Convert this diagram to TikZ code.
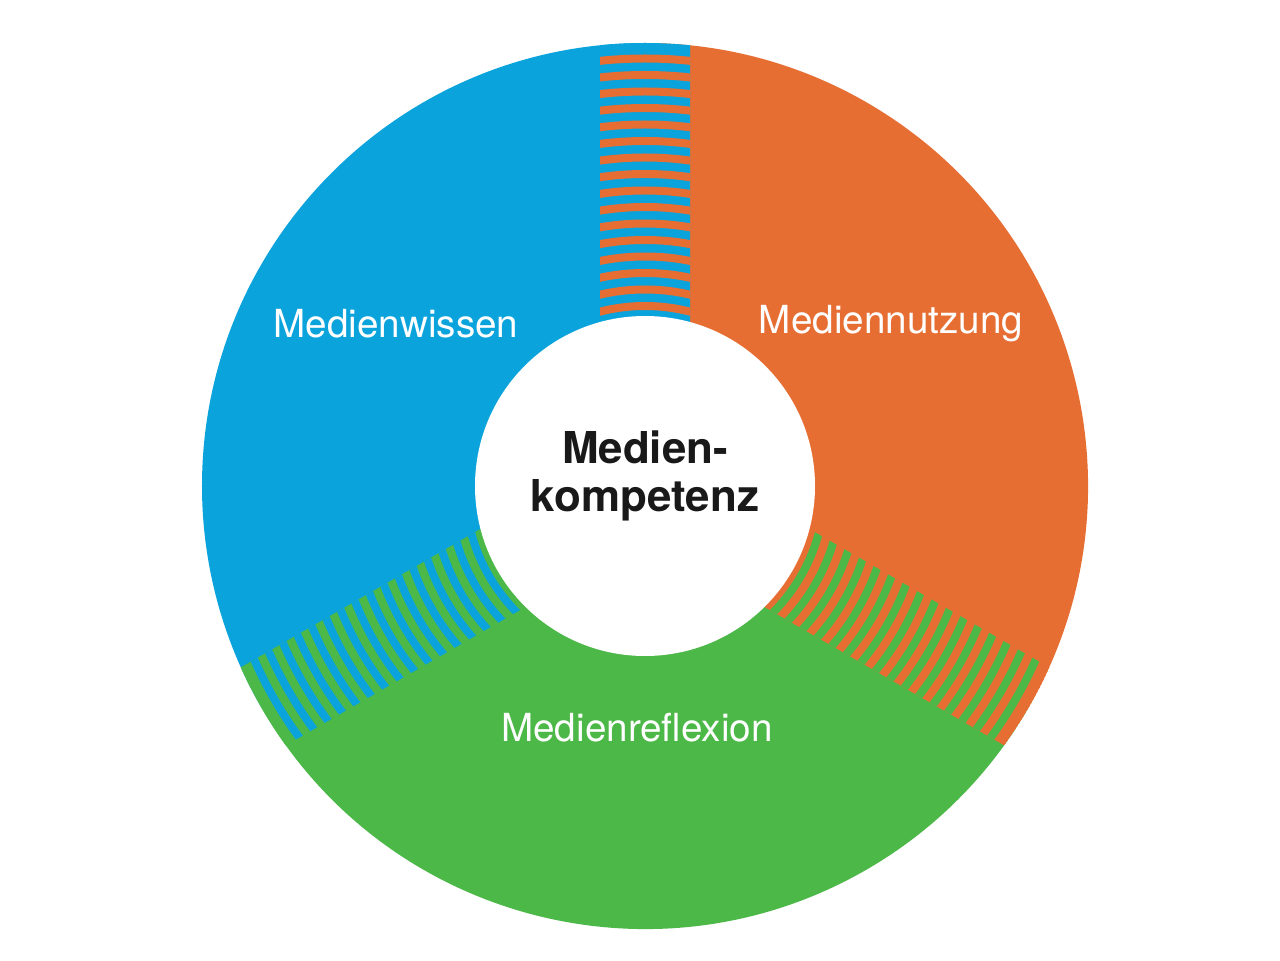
\documentclass[tikz,border=0pt]{standalone}
\usepackage{fontspec}
\setmainfont{TeX Gyre Heros}
\definecolor{cblue}{HTML}{0AA3DC}
\definecolor{corange}{HTML}{E76E33}
\definecolor{cgreen}{HTML}{4CB848}
\begin{document}
\begin{tikzpicture}[x=0.02cm,y=0.02cm,
  lbl/.style={text=white,font=\fontsize{22}{26}\selectfont},
  ctr/.style={text=black!90,font=\bfseries\fontsize{25}{27}\selectfont,align=center}]
\useasboundingbox[fill=white] (-645,-474) rectangle (635,486);
\fill[cblue] (0,0) -- (90:443) arc (90:210:443) -- cycle;
\fill[corange] (0,0) -- (-30:443) arc (-30:90:443) -- cycle;
\fill[cgreen] (0,0) -- (210:443) arc (210:330:443) -- cycle;
\foreach \ang/\bg/\fg in {90/cblue/corange,210/cgreen/cblue,330/corange/cgreen}{
  \begin{scope}
    \clip (0,0) circle (443);
    \clip[rotate=\ang] (0,-45) rectangle (460,45);
    \fill[\bg] (0,0) circle (443);
    \foreach \r in {180,196.5,...,440}{
      \draw[\fg,line width=0.16cm] (0,0) circle (\r);
    }
  \end{scope}
}
\fill[white] (0,0) circle (170);
\node[lbl] (w) at (-249,162) {Medienwissen};
\node[lbl] (n) at (246,162) {Mediennutzung};
\node[lbl] (r) at (-8,-242) {Medienreflexion};
\node[ctr] (c) at (0,10) {Medien-\\kompetenz};
\end{tikzpicture}
\end{document}
